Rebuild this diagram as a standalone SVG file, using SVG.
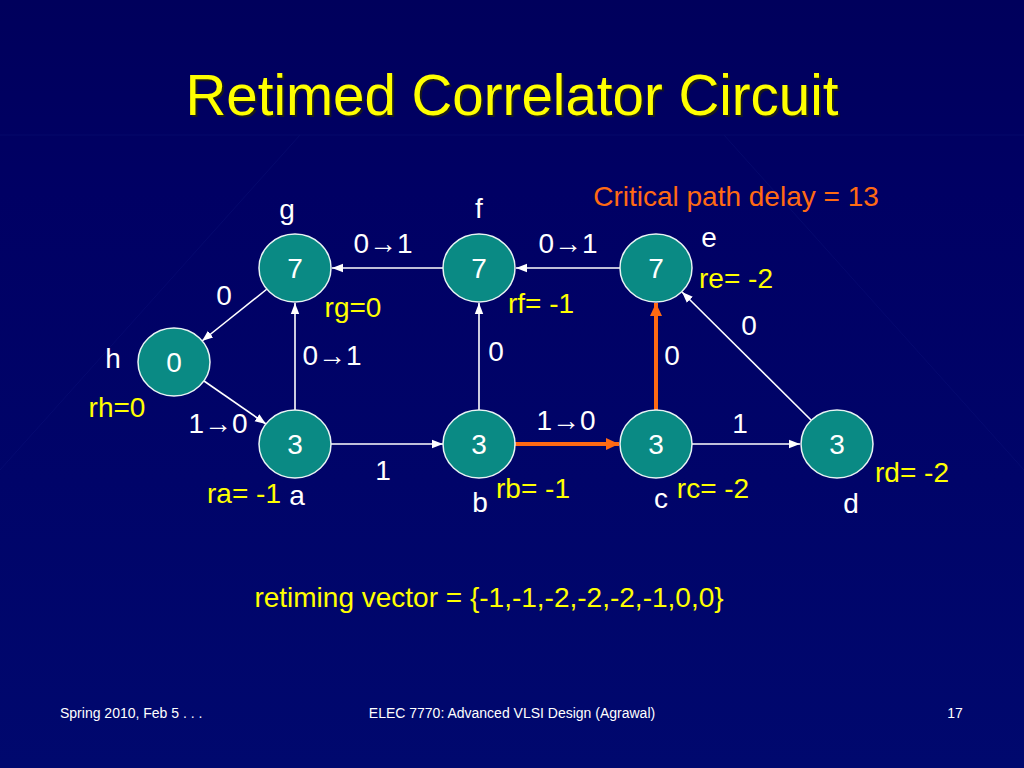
<svg xmlns="http://www.w3.org/2000/svg" width="1024" height="768" viewBox="0 0 1024 768">
<defs>
<linearGradient id="bg" x1="0" y1="0" x2="0" y2="1">
<stop offset="0" stop-color="#00005c"/>
<stop offset="0.25" stop-color="#000064"/>
<stop offset="1" stop-color="#00086e"/>
</linearGradient>
<marker id="aw" markerUnits="userSpaceOnUse" markerWidth="12" markerHeight="10" refX="11" refY="5" orient="auto">
<path d="M0,0.8 L11,5 L0,9.2 z" fill="#ffffff"/>
</marker>
<marker id="ao" markerUnits="userSpaceOnUse" markerWidth="14" markerHeight="14" refX="13" refY="7" orient="auto">
<path d="M0,1 L13,7 L0,13 z" fill="#ff6a13"/>
</marker>
</defs>
<style>
.node ellipse{fill:#0a8a84;stroke:#e8f4f4;stroke-width:1.5}
.node text{fill:#ffffff;font-family:"Liberation Sans",Arial,sans-serif;font-size:28px;text-anchor:middle}
.e{stroke:#ffffff;stroke-width:1.6;fill:none;marker-end:url(#aw)}
.eo{stroke:#ff6a13;stroke-width:4;fill:none;marker-end:url(#ao)}
.t{font-family:"Liberation Sans",Arial,sans-serif;font-size:28px}
.w{fill:#ffffff}
.y{fill:#ffff00}
.mid{text-anchor:middle}
.ft{font-family:"Liberation Sans",Arial,sans-serif;font-size:14px;fill:#ffffff}
</style>
<rect width="1024" height="768" fill="url(#bg)"/>
<g id="bggrid" stroke="#1a2a90" stroke-width="1" opacity="0.2" fill="none">
<line x1="0" y1="135" x2="1024" y2="135"/>
<line x1="0" y1="470" x2="300" y2="135"/>
<line x1="1024" y1="470" x2="724" y2="135"/>
</g>
<text x="514" y="117" class="mid" font-family="Liberation Sans, Arial, sans-serif" font-size="56.5" fill="#1a1a1a">Retimed Correlator Circuit</text>
<text x="512" y="115" class="mid y" font-family="Liberation Sans, Arial, sans-serif" font-size="56.5">Retimed Correlator Circuit</text>
<text x="736" y="206" class="t mid" fill="#ff6a13">Critical path delay = 13</text>
<g id="connectors">
<line class="e" x1="443" y1="268" x2="332" y2="268"/>
<line class="e" x1="620" y1="268" x2="516" y2="268"/>
<line class="e" x1="267" y1="289" x2="202" y2="341"/>
<line class="e" x1="204" y1="381" x2="266" y2="424"/>
<line class="e" x1="295" y1="410" x2="295" y2="303"/>
<line class="e" x1="331" y1="444" x2="443" y2="444"/>
<line class="e" x1="479" y1="410" x2="479" y2="303"/>
<line class="e" x1="692" y1="444" x2="800" y2="444"/>
<line class="e" x1="811" y1="420" x2="682" y2="292"/>
<line class="eo" x1="515" y1="444" x2="619" y2="444"/>
<line class="eo" x1="656" y1="410" x2="656" y2="303"/>
</g>
<g id="node-g" class="node"><ellipse cx="295" cy="268" rx="36" ry="34"/><text x="295" y="278">7</text></g>
<g id="node-f" class="node"><ellipse cx="479" cy="268" rx="36" ry="34"/><text x="479" y="278">7</text></g>
<g id="node-e" class="node"><ellipse cx="656" cy="268" rx="36" ry="34"/><text x="656" y="278">7</text></g>
<g id="node-h" class="node"><ellipse cx="174" cy="362" rx="36" ry="34"/><text x="174" y="372">0</text></g>
<g id="node-a" class="node"><ellipse cx="295" cy="444" rx="36" ry="34"/><text x="295" y="454">3</text></g>
<g id="node-b" class="node"><ellipse cx="479" cy="444" rx="36" ry="34"/><text x="479" y="454">3</text></g>
<g id="node-c" class="node"><ellipse cx="656" cy="444" rx="36" ry="34"/><text x="656" y="454">3</text></g>
<g id="node-d" class="node"><ellipse cx="837" cy="444" rx="36" ry="34"/><text x="837" y="454">3</text></g>
<g id="labels">
<text x="287" y="219" class="t w mid">g</text>
<text x="479" y="218" class="t w mid">f</text>
<text x="709" y="247" class="t w mid">e</text>
<text x="113" y="368" class="t w mid">h</text>
<text x="297" y="505" class="t w mid">a</text>
<text x="480" y="512" class="t w mid">b</text>
<text x="661" y="508" class="t w mid">c</text>
<text x="851" y="513" class="t w mid">d</text>
<text x="383" y="253" class="t w mid">0→1</text>
<text x="568" y="253" class="t w mid">0→1</text>
<text x="224" y="305" class="t w mid">0</text>
<text x="332" y="365" class="t w mid">0→1</text>
<text x="496" y="361" class="t w mid">0</text>
<text x="672" y="365" class="t w mid">0</text>
<text x="749" y="335" class="t w mid">0</text>
<text x="218" y="433" class="t w mid">1→0</text>
<text x="566" y="430" class="t w mid">1→0</text>
<text x="740" y="433" class="t w mid">1</text>
<text x="383" y="480" class="t w mid">1</text>
<text x="353" y="317" class="t y mid">rg=0</text>
<text x="541" y="313" class="t y mid">rf= -1</text>
<text x="736" y="288" class="t y mid">re= -2</text>
<text x="117" y="417" class="t y mid">rh=0</text>
<text x="244" y="503" class="t y mid">ra= -1</text>
<text x="533" y="498" class="t y mid">rb= -1</text>
<text x="713" y="498" class="t y mid">rc= -2</text>
<text x="912" y="482" class="t y mid">rd= -2</text>
<text x="489" y="607" class="t y mid">retiming vector = {-1,-1,-2,-2,-2,-1,0,0}</text>
</g>
<text x="60" y="718" class="ft">Spring 2010, Feb 5 . . .</text>
<text x="512" y="718" class="ft mid">ELEC 7770: Advanced VLSI Design (Agrawal)</text>
<text x="955" y="718" class="ft mid">17</text>
</svg>
